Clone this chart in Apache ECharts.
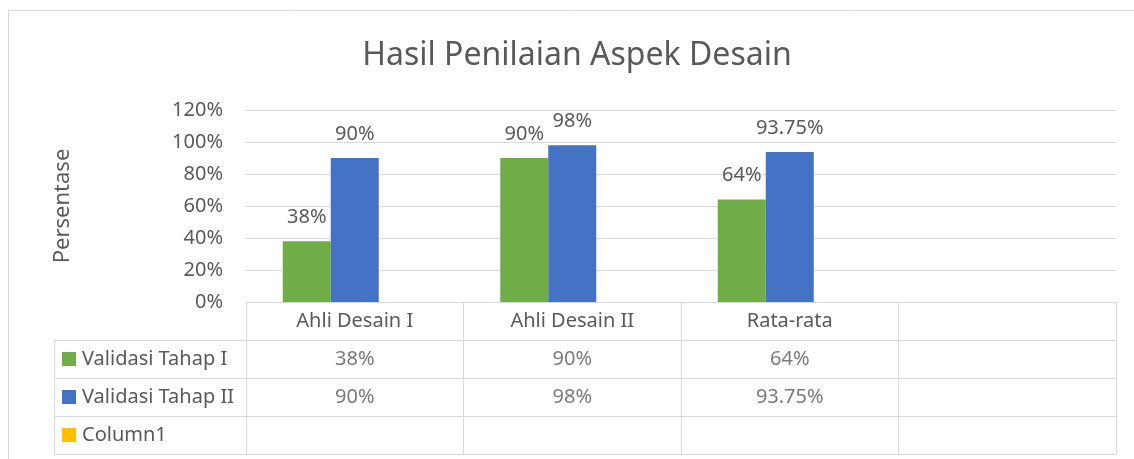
<!DOCTYPE html>
<html>
<head>
<meta charset="utf-8">
<script src="https://cdn.jsdelivr.net/npm/echarts@6/dist/echarts.min.js"></script>
<style>
  html, body { margin: 0; padding: 0; background: #fff; }
  #main { width: 1134px; height: 459px; }
</style>
</head>
<body>
<div id="main"></div>
<script>
// data
var categories = ['Ahli Desain I', 'Ahli Desain II', 'Rata-rata', '']
var seriesNames = ['Validasi Tahap I', 'Validasi Tahap II', 'Column1']
var tahap1 = [38, 90, 64, null]
var tahap2 = [90, 98, 93.75, null]
var column1 = [null, null, null, null]
var yTicks = [0, 20, 40, 60, 80, 100, 120]

var colors = ['#70ad47', '#4472c4', '#ffc000']
var textColor = '#595959'
var lineColor = '#d9d9d9'
var font = 'Noto Sans'

var fmt = function (v) { return v + '%' }

// cells of the data table: [column, row, value]
var cells = []
;[tahap1, tahap2, column1].forEach(function (arr, r) {
    arr.forEach(function (v, c) {
        if (v != null) cells.push([c, r, v])
    })
})

var rich = { t: { fontSize: 20, color: textColor, fontFamily: font, padding: [0, 0, 0, 6] } }
colors.forEach(function (c, i) {
    rich['s' + i] = { width: 14, height: 14, backgroundColor: c }
})

var myChart = echarts.init(document.getElementById('main'))
myChart.setOption({
    animation: false,
    textStyle: { fontFamily: font },
    title: {
        text: 'Hasil Penilaian Aspek Desain',
        left: 572,
        top: 35,
        textAlign: 'center',
        textStyle: { fontSize: 32, fontWeight: 'normal', color: textColor, fontFamily: font }
    },
    graphic: [{
        type: 'rect',
        shape: { x: 8.5, y: 10.5, width: 1200, height: 500 },
        style: { fill: 'none', stroke: lineColor, lineWidth: 1 },
        silent: true
    }],
    grid: [
        { left: 246, right: 18, top: 110, bottom: 157 },   // bars
        { left: 246, right: 18, top: 340, bottom: 5 },     // table values
        { left: 54, width: 192, top: 340, bottom: 5 }      // table legend column
    ],
    xAxis: [
        {
            type: 'category', gridIndex: 0, data: categories,
            axisLine: { show: true, lineStyle: { color: lineColor } },
            axisTick: { show: true, length: 38, lineStyle: { color: lineColor } },
            axisLabel: { fontSize: 20, color: textColor, margin: 9 },
            splitLine: { show: false }
        },
        {
            type: 'category', gridIndex: 1, data: categories,
            axisLine: { show: false }, axisTick: { show: false }, axisLabel: { show: false },
            splitLine: { show: true, lineStyle: { color: lineColor } }
        },
        {
            type: 'category', gridIndex: 2, data: [''],
            axisLine: { show: false }, axisTick: { show: false }, axisLabel: { show: false },
            splitLine: { show: true, lineStyle: { color: lineColor } }
        }
    ],
    yAxis: [
        {
            type: 'value', gridIndex: 0, min: yTicks[0], max: yTicks[yTicks.length - 1], interval: 20,
            name: 'Persentase', nameLocation: 'middle', nameRotate: 90, nameGap: 172,
            nameTextStyle: { fontSize: 22, color: textColor },
            axisLine: { show: false }, axisTick: { show: false },
            axisLabel: { fontSize: 20, color: textColor, margin: 23, formatter: fmt },
            splitLine: { lineStyle: { color: lineColor } }
        },
        {
            type: 'category', gridIndex: 1, data: seriesNames, inverse: true,
            axisLine: { show: false }, axisTick: { show: false }, axisLabel: { show: false },
            splitLine: { show: true, lineStyle: { color: lineColor } }
        },
        {
            type: 'category', gridIndex: 2, data: seriesNames, inverse: true,
            axisLine: { show: false }, axisTick: { show: false },
            axisLabel: {
                inside: true, margin: 8, align: 'left',
                formatter: function (v, i) { return '{s' + i + '|}{t|' + v + '}' },
                rich: rich
            },
            splitLine: { show: true, lineStyle: { color: lineColor } }
        }
    ],
    series: [
        {
            type: 'bar', name: seriesNames[0], data: tahap1, barWidth: 48, barGap: '0%',
            itemStyle: { color: colors[0] },
            label: { show: true, position: 'top', distance: 14, fontSize: 20, color: textColor, formatter: function (p) { return fmt(p.value) } }
        },
        {
            type: 'bar', name: seriesNames[1], data: tahap2, barWidth: 48, barGap: '0%',
            itemStyle: { color: colors[1] },
            label: { show: true, position: 'top', distance: 14, fontSize: 20, color: textColor, formatter: function (p) { return fmt(p.value) } }
        },
        {
            type: 'bar', name: seriesNames[2], data: column1, barWidth: 48, barGap: '0%',
            itemStyle: { color: colors[2] }
        },
        {
            type: 'scatter', xAxisIndex: 1, yAxisIndex: 1, data: cells, symbolSize: 0, silent: true,
            label: {
                show: true, position: 'inside', fontSize: 20, color: textColor,
                formatter: function (p) { return fmt(p.value[2]) }
            }
        }
    ]
})
</script>
</body>
</html>
